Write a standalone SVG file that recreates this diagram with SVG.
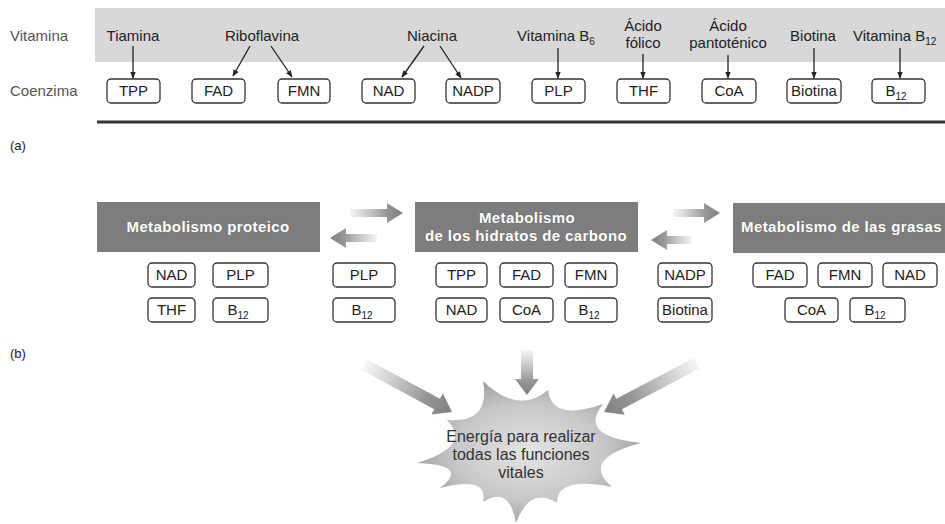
<svg xmlns="http://www.w3.org/2000/svg" width="945" height="524" viewBox="0 0 945 524">
<style>
text{font-family:"Liberation Sans",Arial,sans-serif;font-size:15px;fill:#222}
.lbl{fill:#555}
.c{text-anchor:middle}
.box{fill:#fff;stroke:#333;stroke-width:1.3}
.hdr{fill:#7d7d7d}
.ht{font-weight:bold;fill:#fff;letter-spacing:0.4px;stroke:#555;stroke-width:0.4px;paint-order:stroke}
.thin{stroke:#222;stroke-width:1.3;fill:none;marker-end:url(#ah)}
.big{fill:url(#fade)}
.sub{font-size:10px}
.st{font-size:16px;fill:#333}
</style>
<defs>
<marker id="ah" viewBox="0 0 10 10" refX="9" refY="5" markerWidth="7" markerHeight="7" orient="auto" markerUnits="userSpaceOnUse">
<path d="M0,1 L10,5 L0,9 Z" fill="#222"/>
</marker>
<linearGradient id="fade" x1="0" y1="0" x2="1" y2="0">
<stop offset="0" stop-color="#9a9a9a" stop-opacity="0.1"/>
<stop offset="0.7" stop-color="#8a8a8a" stop-opacity="0.9"/>
<stop offset="1" stop-color="#808080"/>
</linearGradient>
<radialGradient id="starg" cx="0.5" cy="0.5" r="0.55">
<stop offset="0" stop-color="#e4e4e4"/>
<stop offset="0.6" stop-color="#c8c8c8"/>
<stop offset="1" stop-color="#9c9c9c"/>
</radialGradient>
</defs>
<rect width="945" height="524" fill="#fff"/>

<g id="panel-a">
<rect x="95" y="8" width="850" height="54" fill="#d8d8d8"/>
<line x1="97" y1="122" x2="945" y2="122" stroke="#333" stroke-width="3"/>
<text class="lbl" x="10" y="41">Vitamina</text>
<text class="lbl" x="10" y="96">Coenzima</text>
<text x="10" y="150" style="font-size:13px">(a)</text>
</g>

<g id="vitamins">
<text class="c" x="133" y="41">Tiamina</text>
<text class="c" x="262" y="41">Riboflavina</text>
<text class="c" x="432" y="41">Niacina</text>
<text class="c" x="556" y="41">Vitamina B<tspan class="sub" dy="4">6</tspan></text>
<text class="c" x="643" y="31">Ácido</text>
<text class="c" x="643" y="48">fólico</text>
<text class="c" x="728" y="31">Ácido</text>
<text class="c" x="728" y="48">pantoténico</text>
<text class="c" x="813" y="41">Biotina</text>
<text x="853" y="41">Vitamina B<tspan class="sub" dy="4">12</tspan></text>
</g>

<g id="coenzymes-a">
<g id="a-TPP"><rect class="box" x="107" y="79" width="53" height="24" rx="4"/><text class="c" x="133.5" y="96">TPP</text></g>
<g id="a-FAD"><rect class="box" x="192" y="79" width="53" height="24" rx="4"/><text class="c" x="218.5" y="96">FAD</text></g>
<g id="a-FMN"><rect class="box" x="278" y="79" width="52" height="24" rx="4"/><text class="c" x="304" y="96">FMN</text></g>
<g id="a-NAD"><rect class="box" x="362" y="79" width="53" height="24" rx="4"/><text class="c" x="388.5" y="96">NAD</text></g>
<g id="a-NADP"><rect class="box" x="446" y="79" width="54" height="24" rx="4"/><text class="c" x="473" y="96">NADP</text></g>
<g id="a-PLP"><rect class="box" x="532" y="79" width="53" height="24" rx="4"/><text class="c" x="558.5" y="96">PLP</text></g>
<g id="a-THF"><rect class="box" x="617" y="79" width="53" height="24" rx="4"/><text class="c" x="643.5" y="96">THF</text></g>
<g id="a-CoA"><rect class="box" x="702" y="79" width="54" height="24" rx="4"/><text class="c" x="729" y="96">CoA</text></g>
<g id="a-Biotina"><rect class="box" x="787" y="79" width="54" height="24" rx="4"/><text class="c" x="814" y="96">Biotina</text></g>
<g id="a-B12"><rect class="box" x="872" y="79" width="53" height="24" rx="4"/><text class="c" x="896" y="96">B<tspan class="sub" dy="4">12</tspan></text></g>
</g>

<g id="headers">
<g id="h-proteico"><rect class="hdr" x="97" y="202" width="223" height="50"/><text class="ht c" x="208" y="232">Metabolismo proteico</text></g>
<g id="h-hidratos"><rect class="hdr" x="415" y="202" width="223" height="50"/><text class="ht c" x="527" y="223">Metabolismo</text><text class="ht c" x="526" y="241">de los hidratos de carbono</text></g>
<g id="h-grasas"><rect class="hdr" x="733" y="203" width="212" height="50"/><text class="ht" x="741" y="232">Metabolismo de las grasas</text></g>
</g>

<g id="coenzymes-b">
<g id="b-NAD1"><rect class="box" x="148" y="263" width="47" height="24" rx="4"/><text class="c" x="171.5" y="280">NAD</text></g>
<g id="b-PLP1"><rect class="box" x="213" y="263" width="55" height="24" rx="4"/><text class="c" x="240.5" y="280">PLP</text></g>
<g id="b-THF1"><rect class="box" x="148" y="298" width="47" height="24" rx="4"/><text class="c" x="171.5" y="315">THF</text></g>
<g id="b-B12a"><rect class="box" x="213" y="298" width="55" height="24" rx="4"/><text class="c" x="238" y="315">B<tspan class="sub" dy="4">12</tspan></text></g>
<g id="b-PLP2"><rect class="box" x="333" y="263" width="62" height="24" rx="4"/><text class="c" x="364" y="280">PLP</text></g>
<g id="b-B12b"><rect class="box" x="333" y="298" width="62" height="24" rx="4"/><text class="c" x="362" y="315">B<tspan class="sub" dy="4">12</tspan></text></g>
<g id="b-TPP"><rect class="box" x="436" y="263" width="51" height="24" rx="4"/><text class="c" x="461.5" y="280">TPP</text></g>
<g id="b-FAD1"><rect class="box" x="500" y="263" width="53" height="24" rx="4"/><text class="c" x="526.5" y="280">FAD</text></g>
<g id="b-FMN1"><rect class="box" x="565" y="263" width="52" height="24" rx="4"/><text class="c" x="591" y="280">FMN</text></g>
<g id="b-NAD2"><rect class="box" x="436" y="298" width="51" height="24" rx="4"/><text class="c" x="461.5" y="315">NAD</text></g>
<g id="b-CoA1"><rect class="box" x="500" y="298" width="53" height="24" rx="4"/><text class="c" x="526.5" y="315">CoA</text></g>
<g id="b-B12c"><rect class="box" x="565" y="298" width="52" height="24" rx="4"/><text class="c" x="589" y="315">B<tspan class="sub" dy="4">12</tspan></text></g>
<g id="b-NADP"><rect class="box" x="658" y="263" width="54" height="24" rx="4"/><text class="c" x="685" y="280">NADP</text></g>
<g id="b-Biotina"><rect class="box" x="658" y="298" width="54" height="24" rx="4"/><text class="c" x="685" y="315">Biotina</text></g>
<g id="b-FAD2"><rect class="box" x="753" y="263" width="54" height="24" rx="4"/><text class="c" x="780" y="280">FAD</text></g>
<g id="b-FMN2"><rect class="box" x="818" y="263" width="54" height="24" rx="4"/><text class="c" x="845" y="280">FMN</text></g>
<g id="b-NAD3"><rect class="box" x="883" y="263" width="54" height="24" rx="4"/><text class="c" x="910" y="280">NAD</text></g>
<g id="b-CoA2"><rect class="box" x="785" y="298" width="53" height="24" rx="4"/><text class="c" x="811.5" y="315">CoA</text></g>
<g id="b-B12d"><rect class="box" x="850" y="298" width="55" height="24" rx="4"/><text class="c" x="875" y="315">B<tspan class="sub" dy="4">12</tspan></text></g>
<text x="10" y="358" style="font-size:13px">(b)</text>
</g>

<g id="energy">
<path fill="url(#starg)" d="M483,381 Q518.4,415.4 548,390 Q551.4,421.8 603,404 Q577,436.3 641,443 Q579.5,459.2 612,487 Q556.4,475.7 557,503 Q530,485.6 516,523 Q509.6,485.3 483,502 Q488.7,475.7 440,488 Q470.6,464.9 417,463 Q472.5,446.2 447,420 Q490.7,423.7 483,381 Z"/>
<text class="st c" x="521" y="442">Energía para realizar</text>
<text class="st c" x="521" y="460">todas las funciones</text>
<text class="st c" x="521" y="478">vitales</text>
</g>

<g id="connectors">
<line class="thin" x1="133" y1="46" x2="133" y2="78"/>
<line class="thin" x1="250" y1="46" x2="233" y2="76"/>
<line class="thin" x1="271" y1="46" x2="292" y2="77"/>
<line class="thin" x1="424" y1="46" x2="402" y2="77"/>
<line class="thin" x1="440" y1="46" x2="461" y2="78"/>
<line class="thin" x1="558" y1="48" x2="558" y2="78"/>
<line class="thin" x1="643" y1="54" x2="643" y2="78"/>
<line class="thin" x1="728" y1="55" x2="728" y2="78"/>
<line class="thin" x1="814" y1="48" x2="814" y2="78"/>
<line class="thin" x1="900" y1="48" x2="900" y2="78"/>

<polygon class="big" transform="translate(350,213)" points="0,-4 37,-4 37,-10 53,0 37,10 37,4 0,4"/>
<polygon class="big" transform="translate(377,238) rotate(180)" points="0,-4 31,-4 31,-10 47,0 31,10 31,4 0,4"/>
<polygon class="big" transform="translate(673,213)" points="0,-4 31,-4 31,-10 47,0 31,10 31,4 0,4"/>
<polygon class="big" transform="translate(692,240) rotate(180)" points="0,-4 25,-4 25,-10 41,0 25,10 25,4 0,4"/>

<polygon class="big" transform="translate(527,350) rotate(90)" points="0,-6 29,-6 29,-12 45,0 29,12 29,6 0,6"/>
<polygon class="big" transform="translate(365,365) rotate(28.4)" points="0,-6 82,-6 82,-12 99,0 82,12 82,6 0,6"/>
<polygon class="big" transform="translate(697,363) rotate(152.2)" points="0,-6 88,-6 88,-12 105,0 88,12 88,6 0,6"/>
</g>
</svg>
